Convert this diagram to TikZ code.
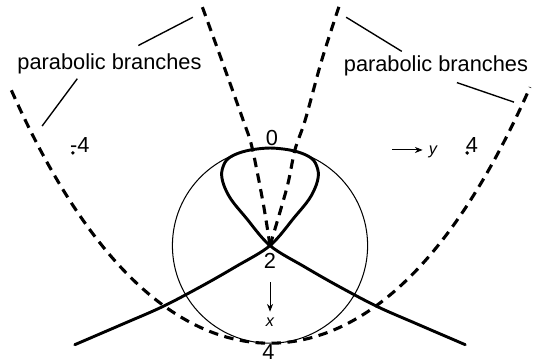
\documentclass[tikz,border=0pt]{standalone}
\usepackage{fontspec}
\setmainfont{Liberation Sans}
\usepackage{tikz}
\usetikzlibrary{arrows.meta, calc}
\tikzset{
  curve/.style={line width=1.7pt, line join=round, line cap=round},
  branch/.style={line width=1.8pt, dash pattern=on 5.5pt off 3.8pt},
  circ/.style={line width=0.6pt},
  pointer/.style={line width=0.8pt},
  axarrow/.style={-{Stealth[length=4.5pt,width=3.6pt]}, line width=0.55pt},
  lbl/.style={font=\fontsize{12.7}{15}\selectfont, inner sep=0pt},
  axlbl/.style={font=\fontsize{9.5}{11}\selectfont\itshape, inner sep=0pt},
  ptdot/.style={fill=black}
}

\begin{document}
\begin{tikzpicture}
  \useasboundingbox (-5.533,-4.406) rectangle (5.389,3.033);

  % ── Circle on the diameter 0--4 ────────────────────────────────────────────
  \draw[circ] (0,-2) circle (2);

  % ── Dashed parabolic branches ──────────────────────────────────────────────
  \draw[branch] plot[domain=-5.3:5.33, samples=90, smooth]
    (\x, {-4+0.1575*\x*\x+0.00096*\x*\x*\x*\x});
  \draw[branch] plot[smooth] coordinates
    {(0,-2) (-0.14,-1.13) (-0.37,0.02) (-0.55,0.57) (-0.99,1.8) (-1.42,2.98)};
  \draw[branch] plot[smooth] coordinates
    {(0,-2) (0.35,-0.8) (0.51,-0.04) (0.72,0.57) (1.06,1.8) (1.43,2.95)};

  % ── Solid curve: loop through 0, node at 2 ─────────────────────────────────
  \draw[curve] plot[smooth, tension=0.55] coordinates {
    (-4.0,-4.03) (-3.0,-3.6) (-2.2,-3.25) (-1.4,-2.83) (-0.7,-2.43) (0,-2)
    (0.5,-1.42) (0.8,-1.05) (0.95,-0.75) (0.99,-0.5) (0.9,-0.26) (0.7,-0.127) (0.4,-0.04)
    (0,0)
    (-0.4,-0.04) (-0.7,-0.127) (-0.9,-0.26) (-0.99,-0.5) (-0.95,-0.75) (-0.8,-1.05) (-0.5,-1.42)
    (0,-2) (0.7,-2.43) (1.4,-2.83) (2.2,-3.25) (3.0,-3.6) (4.0,-4.03)};

  % ── Labels ────────────────────────────────────────────────────────────────
  \node[lbl, anchor=base] (lblL) at (-3.289,1.60) {parabolic branches};
  \node[lbl, anchor=base] (lblR) at (3.40,1.56) {parabolic branches};
  \coordinate (tipL1) at (-1.58,2.68);
  \coordinate (tipL2) at (-4.67,0.45);
  \coordinate (tipR1) at (1.56,2.68);
  \coordinate (tipR2) at (5.0,0.94);
  \draw[pointer] (lblL.north) ++(0.59,0.17) -- (tipL1);
  \draw[pointer] (lblL.south) ++(-0.66,-0.08) -- (tipL2);
  \draw[pointer] (lblR.north) ++(-0.70,0.09) -- (tipR1);
  \draw[pointer] (lblR.south) ++(0.43,-0.12) -- (tipR2);

  \node[lbl] (n0) at (0.04,0.215) {0};
  \node[lbl] (n2) at (0,-2.32) {2};
  \node[lbl] (n4) at (-0.03,-4.19) {4};
  \node[lbl] (nm4) at (-3.9,0.07) {-4};
  \node[lbl] (np4) at (4.14,0.07) {4};
  \foreach \s in {-1,1}
    \fill[ptdot] (\s*4.04,-0.1) circle (0.04);

  % ── Axis directions ────────────────────────────────────────────────────────
  \node[axlbl] (ylbl) at (3.34,-0.07) {y};
  \coordinate (ytail) at (2.5,-0.04);
  \draw[axarrow, shorten >=3.5pt] (ytail) -- (ylbl.west |- ytail);
  \node[axlbl] (xlbl) at (0,-3.56) {x};
  \coordinate (xtail) at (0,-2.75);
  \draw[axarrow, shorten >=3.2pt] (xtail) -- (xlbl.north);
\end{tikzpicture}
\end{document}
